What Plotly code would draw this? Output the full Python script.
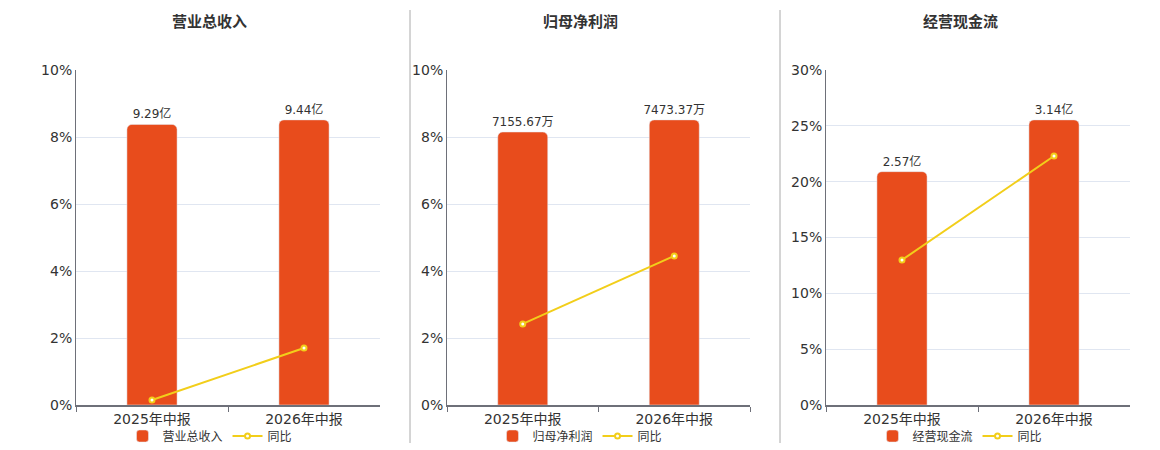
import plotly.graph_objects as go

categories = ["2025年中报", "2026年中报"]
titles = ["营业总收入", "归母净利润", "经营现金流"]
bar_values = [[9.29, 9.44], [7155.67, 7473.37], [2.57, 3.14]]
bar_labels = [["9.29亿", "9.44亿"], ["7155.67万", "7473.37万"], ["2.57亿", "3.14亿"]]
yoy_values = [[0.15, 1.70], [2.42, 4.45], [12.99, 22.30]]
pct_ticks = [[0, 2, 4, 6, 8, 10], [0, 2, 4, 6, 8, 10], [0, 5, 10, 15, 20, 25, 30]]
pct_labels = [["0%", "2%", "4%", "6%", "8%", "10%"],
              ["0%", "2%", "4%", "6%", "8%", "10%"],
              ["0%", "5%", "10%", "15%", "20%", "25%", "30%"]]

W, H = 1160, 450
OFF = 8  # page body margin
BAR = "#E84C1C"
LINE = "#F2CE1A"
AXIS = "#6E7079"
GRID = "#E0E6F1"
FONT = "DejaVu Sans, Noto Sans CJK SC"


def px(v):
    return (v - OFF) / W


def py(v):
    return 1 - (v - OFF) / H


x_dom = [(76, 380), (447, 750), (826, 1130)]
y_dom = [py(405), py(70)]
title_x = [210, 580, 960]

fig = go.Figure()
layout = dict(
    width=W, height=H, margin=dict(l=0, r=0, t=0, b=0, autoexpand=False),
    paper_bgcolor="white", plot_bgcolor="white",
    font=dict(family=FONT, color="#333333", size=12),
    barcornerradius=5, bargap=0.67, showlegend=True,
    annotations=[], shapes=[],
)

for i in range(3):
    xn = "x" if i == 0 else f"x{i+1}"
    xk = "xaxis" if i == 0 else f"xaxis{i+1}"
    b = 3 * i + 1
    base = "y" if b == 1 else f"y{b}"
    basek = "yaxis" if b == 1 else f"yaxis{b}"
    yb, yl = f"y{b+1}", f"y{b+2}"
    lg = "legend" if i == 0 else f"legend{i+1}"

    layout[xk] = dict(
        domain=[px(x_dom[i][0]), px(x_dom[i][1])], anchor=base,
        showline=True, linecolor=AXIS, linewidth=1.5,
        ticks="outside", tickson="boundaries", ticklen=5, tickcolor=AXIS,
        tickfont=dict(size=14, color="#333333"), showgrid=False,
        fixedrange=True,
    )
    layout[basek] = dict(
        domain=y_dom, anchor=xn, range=[0, pct_ticks[i][-1]], type="linear",
        tickmode="array", tickvals=pct_ticks[i], ticktext=pct_labels[i],
        showgrid=True, gridcolor=GRID, gridwidth=1,
        showline=True, linecolor=AXIS, linewidth=1, ticks="",
        tickfont=dict(size=14, color="#333333"), zeroline=False,
    )
    mx = max(bar_values[i])
    layout[f"yaxis{b+1}"] = dict(
        overlaying=base, anchor=xn, range=[0, mx * 1.175], visible=False,
    )
    layout[f"yaxis{b+2}"] = dict(
        overlaying=base, anchor=xn, range=[0, pct_ticks[i][-1]], visible=False,
    )
    fig.add_trace(go.Scatter(x=categories, y=[None, None], xaxis=xn, yaxis=base,
                             showlegend=False, hoverinfo="skip"))
    fig.add_trace(go.Bar(
        x=categories, y=bar_values[i], xaxis=xn, yaxis=yb, name=titles[i],
        marker=dict(color=BAR), text=bar_labels[i], textposition="outside",
        constraintext="none",
        textfont=dict(size=12, color="#333333"), cliponaxis=False, legend=lg,
    ))
    fig.add_trace(go.Scatter(
        x=categories, y=yoy_values[i], xaxis=xn, yaxis=yl, name="同比",
        mode="lines+markers", line=dict(color=LINE, width=2),
        marker=dict(size=5, color="white", line=dict(color=LINE, width=2)),
        legend=lg,
    ))
    layout[lg] = dict(
        orientation="h", x=px(title_x[i]), xanchor="center",
        y=py(436), yanchor="middle", font=dict(size=12, color="#333333"),
        bgcolor="rgba(0,0,0,0)", itemwidth=30,
    )
    layout["annotations"].append(dict(
        text=f"<b>{titles[i]}</b>", x=px(title_x[i]), y=py(22),
        xref="paper", yref="paper", showarrow=False,
        font=dict(size=15, color="#333333"), xanchor="center", yanchor="middle",
    ))

for sx in (410, 780):
    layout["shapes"].append(dict(
        type="line", xref="paper", yref="paper", x0=px(sx), x1=px(sx),
        y0=py(443), y1=py(10), line=dict(color="#AAAAAA", width=1),
    ))

fig.update_layout(**layout)
fig.write_html("out.html")
